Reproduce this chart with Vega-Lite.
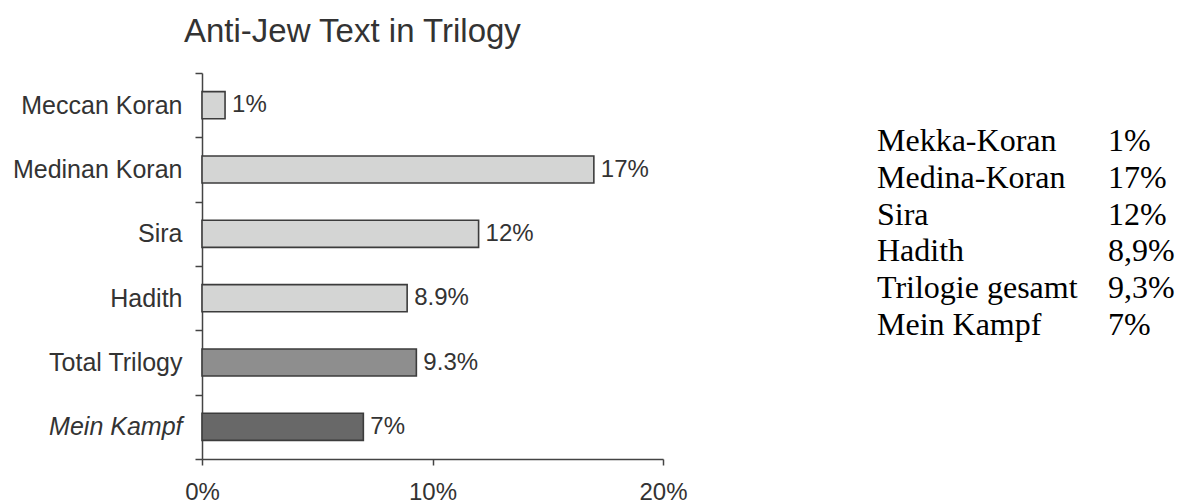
{
  "$schema": "https://vega.github.io/schema/vega-lite/v6.json",
  "padding": {"left": 12, "top": 16, "right": 5, "bottom": 0},
  "background": "white",
  "config": {"view": {"stroke": null}, "font": "Liberation Sans"},
  "datasets": {
    "bars": [
      {"source": "Meccan Koran", "pct": 1, "label": "1%", "kind": "text"},
      {"source": "Medinan Koran", "pct": 17, "label": "17%", "kind": "text"},
      {"source": "Sira", "pct": 12, "label": "12%", "kind": "text"},
      {"source": "Hadith", "pct": 8.9, "label": "8.9%", "kind": "text"},
      {"source": "Total Trilogy", "pct": 9.3, "label": "9.3%", "kind": "total"},
      {"source": "Mein Kampf", "pct": 7, "label": "7%", "kind": "mk"}
    ],
    "table": [
      {"row": "Mekka-Koran", "col": "name", "text": "Mekka-Koran"},
      {"row": "Mekka-Koran", "col": "value", "text": "1%"},
      {"row": "Medina-Koran", "col": "name", "text": "Medina-Koran"},
      {"row": "Medina-Koran", "col": "value", "text": "17%"},
      {"row": "Sira", "col": "name", "text": "Sira"},
      {"row": "Sira", "col": "value", "text": "12%"},
      {"row": "Hadith", "col": "name", "text": "Hadith"},
      {"row": "Hadith", "col": "value", "text": "8,9%"},
      {"row": "Trilogie gesamt", "col": "name", "text": "Trilogie gesamt"},
      {"row": "Trilogie gesamt", "col": "value", "text": "9,3%"},
      {"row": "Mein Kampf", "col": "name", "text": "Mein Kampf"},
      {"row": "Mein Kampf", "col": "value", "text": "7%"}
    ]
  },
  "hconcat": [
    {
      "width": 461,
      "height": 386,
      "data": {"name": "bars"},
      "title": {
        "text": "Anti-Jew Text in Trilogy",
        "anchor": "start",
        "frame": "group",
        "dx": -18,
        "offset": -14,
        "baseline": "alphabetic",
        "fontSize": 33,
        "fontWeight": "normal",
        "color": "#333333",
        "font": "Liberation Sans"
      },
      "encoding": {
        "y": {
          "field": "source",
          "type": "nominal",
          "sort": null,
          "title": null,
          "scale": {"paddingInner": 0, "paddingOuter": 0},
          "axis": {
            "tickBand": "extent",
            "tickSize": 7,
            "tickWidth": 1.5,
            "tickColor": "#444444",
            "domainColor": "#444444",
            "domainWidth": 1.5,
            "labelPadding": 13,
            "labelFontSize": 25,
            "labelColor": "#333333",
            "labelFont": "Liberation Sans",
            "labelLimit": 400,
            "labelFontStyle": {"condition": {"test": "datum.value === 'Mein Kampf'", "value": "italic"}, "value": "normal"}
          }
        }
      },
      "layer": [
        {
          "mark": {"type": "bar", "height": {"band": 0.42}, "stroke": "#3c3c3c", "strokeWidth": 1.6},
          "encoding": {
            "x": {
              "field": "pct",
              "type": "quantitative",
              "title": null,
              "scale": {"domain": [0, 20], "nice": false},
              "axis": {
                "values": [0, 10, 20],
                "labelExpr": "datum.value + '%'",
                "grid": false,
                "tickSize": 6,
                "tickWidth": 1.5,
                "tickColor": "#444444",
                "domainColor": "#444444",
                "domainWidth": 1.5,
                "labelPadding": 15,
                "labelFontSize": 24,
                "labelColor": "#333333",
                "labelFont": "Liberation Sans",
                "labelFlush": false
              }
            },
            "color": {
              "field": "kind",
              "type": "nominal",
              "legend": null,
              "scale": {"domain": ["text", "total", "mk"], "range": ["#d4d5d4", "#8e8e8e", "#686868"]}
            }
          }
        },
        {
          "mark": {"type": "text", "align": "left", "baseline": "middle", "dx": 7, "fontSize": 24, "color": "#333333", "font": "Liberation Sans"},
          "encoding": {
            "x": {"field": "pct", "type": "quantitative"},
            "text": {"field": "label"}
          }
        }
      ]
    },
    {
      "width": 231,
      "height": 386,
      "data": {"name": "table"},
      "mark": {"type": "text", "align": "left", "baseline": "alphabetic", "fontSize": 32, "font": "Liberation Serif", "color": "#000000"},
      "encoding": {
        "y": {"field": "row", "type": "nominal", "sort": null, "axis": null, "scale": {"range": [60, 280], "paddingInner": 0, "paddingOuter": 0}},
        "x": {"field": "col", "type": "nominal", "axis": null, "scale": {"type": "point", "padding": 0}},
        "text": {"field": "text"}
      }
    }
  ],
  "spacing": 214,
  "bounds": "flush"
}
